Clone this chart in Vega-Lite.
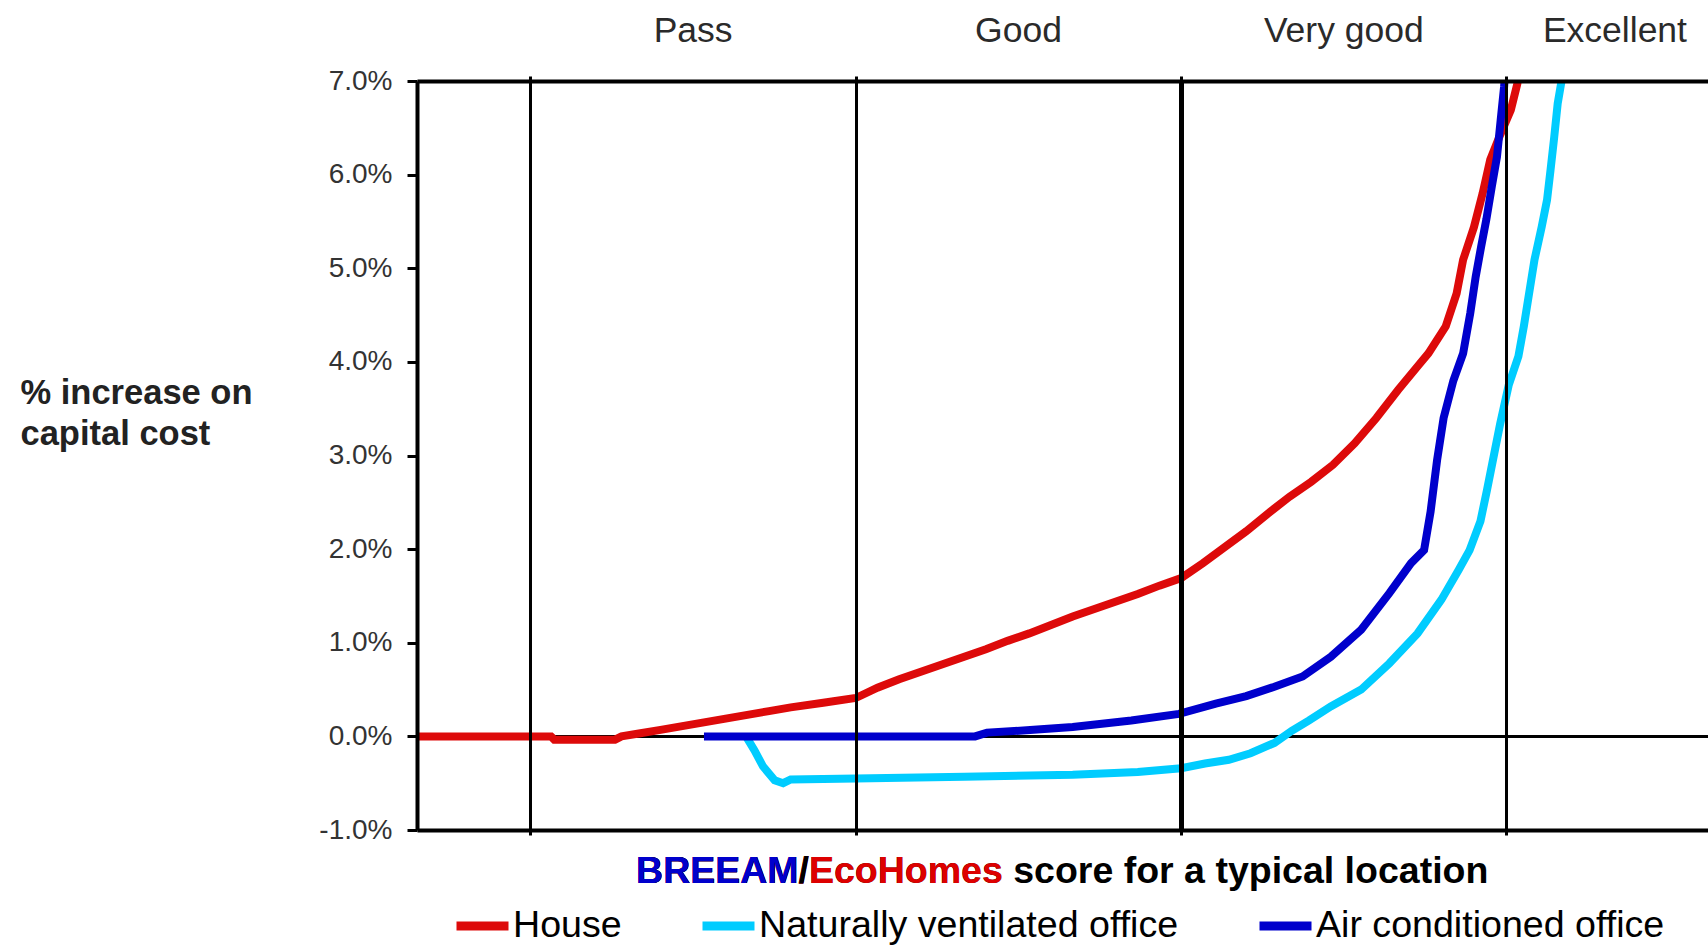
{
  "$schema": "https://vega.github.io/schema/vega-lite/v6.json",
  "width": 1291,
  "height": 749,
  "autosize": {"type": "none"},
  "padding": {"left": 417, "top": 81, "right": 0, "bottom": 116},
  "background": "#ffffff",
  "config": {"view": {"stroke": null}, "font": "Liberation Sans"},
  "resolve": {"axis": {"x": "independent"}},
  "layer": [
    {
      "data": {"values": [{}]},
      "mark": {"type": "rule", "color": "#000000", "strokeWidth": 3},
      "encoding": {"y": {"datum": 0, "type": "quantitative"}}
    },
    {
      "data": {"values": [
        {"series": "House", "score": 19.77, "pct": 0},
        {"series": "House", "score": 25.95, "pct": 0},
        {"series": "House", "score": 26.1, "pct": -0.035},
        {"series": "House", "score": 28.9, "pct": -0.035},
        {"series": "House", "score": 29.2, "pct": 0},
        {"series": "House", "score": 30, "pct": 0.03},
        {"series": "House", "score": 31, "pct": 0.07},
        {"series": "House", "score": 32, "pct": 0.11},
        {"series": "House", "score": 33, "pct": 0.15},
        {"series": "House", "score": 34, "pct": 0.19},
        {"series": "House", "score": 35, "pct": 0.23},
        {"series": "House", "score": 36, "pct": 0.27},
        {"series": "House", "score": 37, "pct": 0.31},
        {"series": "House", "score": 38.5, "pct": 0.36},
        {"series": "House", "score": 40, "pct": 0.41},
        {"series": "House", "score": 41, "pct": 0.52},
        {"series": "House", "score": 42, "pct": 0.61},
        {"series": "House", "score": 43, "pct": 0.69},
        {"series": "House", "score": 44, "pct": 0.77},
        {"series": "House", "score": 45, "pct": 0.85},
        {"series": "House", "score": 46, "pct": 0.93},
        {"series": "House", "score": 47, "pct": 1.02},
        {"series": "House", "score": 48, "pct": 1.1},
        {"series": "House", "score": 49, "pct": 1.19},
        {"series": "House", "score": 50, "pct": 1.28},
        {"series": "House", "score": 51, "pct": 1.36},
        {"series": "House", "score": 52, "pct": 1.44},
        {"series": "House", "score": 53, "pct": 1.52},
        {"series": "House", "score": 54, "pct": 1.61},
        {"series": "House", "score": 55, "pct": 1.69},
        {"series": "House", "score": 56, "pct": 1.85},
        {"series": "House", "score": 57, "pct": 2.02},
        {"series": "House", "score": 58, "pct": 2.19},
        {"series": "House", "score": 59, "pct": 2.38},
        {"series": "House", "score": 60, "pct": 2.56},
        {"series": "House", "score": 61, "pct": 2.72},
        {"series": "House", "score": 62, "pct": 2.9},
        {"series": "House", "score": 63, "pct": 3.13},
        {"series": "House", "score": 64, "pct": 3.4},
        {"series": "House", "score": 65, "pct": 3.7},
        {"series": "House", "score": 66, "pct": 3.98},
        {"series": "House", "score": 66.4, "pct": 4.09},
        {"series": "House", "score": 67.2, "pct": 4.38},
        {"series": "House", "score": 67.7, "pct": 4.73},
        {"series": "House", "score": 68, "pct": 5.09},
        {"series": "House", "score": 68.5, "pct": 5.44},
        {"series": "House", "score": 68.9, "pct": 5.8},
        {"series": "House", "score": 69.25, "pct": 6.16},
        {"series": "House", "score": 69.7, "pct": 6.42},
        {"series": "House", "score": 70.2, "pct": 6.69},
        {"series": "House", "score": 70.5, "pct": 6.97},
        {"series": "House", "score": 70.6, "pct": 7.15},
        {"series": "Naturally ventilated office", "score": 34.94, "pct": 0},
        {"series": "Naturally ventilated office", "score": 35.33, "pct": -0.15},
        {"series": "Naturally ventilated office", "score": 35.72, "pct": -0.32},
        {"series": "Naturally ventilated office", "score": 36.26, "pct": -0.47},
        {"series": "Naturally ventilated office", "score": 36.65, "pct": -0.5},
        {"series": "Naturally ventilated office", "score": 37, "pct": -0.46},
        {"series": "Naturally ventilated office", "score": 40, "pct": -0.45},
        {"series": "Naturally ventilated office", "score": 45, "pct": -0.43},
        {"series": "Naturally ventilated office", "score": 50, "pct": -0.41},
        {"series": "Naturally ventilated office", "score": 53, "pct": -0.38},
        {"series": "Naturally ventilated office", "score": 55, "pct": -0.34},
        {"series": "Naturally ventilated office", "score": 56.1, "pct": -0.29},
        {"series": "Naturally ventilated office", "score": 57.2, "pct": -0.25},
        {"series": "Naturally ventilated office", "score": 58.2, "pct": -0.18},
        {"series": "Naturally ventilated office", "score": 59.3, "pct": -0.07},
        {"series": "Naturally ventilated office", "score": 60.1, "pct": 0.06},
        {"series": "Naturally ventilated office", "score": 60.9, "pct": 0.17},
        {"series": "Naturally ventilated office", "score": 61.9, "pct": 0.32},
        {"series": "Naturally ventilated office", "score": 63.3, "pct": 0.5},
        {"series": "Naturally ventilated office", "score": 64.6, "pct": 0.78},
        {"series": "Naturally ventilated office", "score": 65.9, "pct": 1.1},
        {"series": "Naturally ventilated office", "score": 67, "pct": 1.46},
        {"series": "Naturally ventilated office", "score": 67.8, "pct": 1.78},
        {"series": "Naturally ventilated office", "score": 68.3, "pct": 1.99},
        {"series": "Naturally ventilated office", "score": 68.8, "pct": 2.3},
        {"series": "Naturally ventilated office", "score": 69.1, "pct": 2.63},
        {"series": "Naturally ventilated office", "score": 69.7, "pct": 3.33},
        {"series": "Naturally ventilated office", "score": 70.1, "pct": 3.75},
        {"series": "Naturally ventilated office", "score": 70.55, "pct": 4.06},
        {"series": "Naturally ventilated office", "score": 70.8, "pct": 4.38},
        {"series": "Naturally ventilated office", "score": 71.04, "pct": 4.73},
        {"series": "Naturally ventilated office", "score": 71.29, "pct": 5.09},
        {"series": "Naturally ventilated office", "score": 71.62, "pct": 5.44},
        {"series": "Naturally ventilated office", "score": 71.87, "pct": 5.73},
        {"series": "Naturally ventilated office", "score": 72.03, "pct": 6.05},
        {"series": "Naturally ventilated office", "score": 72.2, "pct": 6.4},
        {"series": "Naturally ventilated office", "score": 72.36, "pct": 6.76},
        {"series": "Naturally ventilated office", "score": 72.53, "pct": 6.99},
        {"series": "Naturally ventilated office", "score": 72.6, "pct": 7.15},
        {"series": "Air conditioned office", "score": 33.0, "pct": 0},
        {"series": "Air conditioned office", "score": 45.5, "pct": 0},
        {"series": "Air conditioned office", "score": 46.05, "pct": 0.04},
        {"series": "Air conditioned office", "score": 48.2, "pct": 0.07},
        {"series": "Air conditioned office", "score": 50, "pct": 0.1},
        {"series": "Air conditioned office", "score": 52.7, "pct": 0.17},
        {"series": "Air conditioned office", "score": 54.9, "pct": 0.24},
        {"series": "Air conditioned office", "score": 56.6, "pct": 0.35},
        {"series": "Air conditioned office", "score": 58, "pct": 0.43},
        {"series": "Air conditioned office", "score": 59.3, "pct": 0.53},
        {"series": "Air conditioned office", "score": 60.6, "pct": 0.64},
        {"series": "Air conditioned office", "score": 61.9, "pct": 0.85},
        {"series": "Air conditioned office", "score": 63.3, "pct": 1.14},
        {"series": "Air conditioned office", "score": 64.6, "pct": 1.53},
        {"series": "Air conditioned office", "score": 65.6, "pct": 1.85},
        {"series": "Air conditioned office", "score": 66.2, "pct": 1.99},
        {"series": "Air conditioned office", "score": 66.5, "pct": 2.4},
        {"series": "Air conditioned office", "score": 66.8, "pct": 2.95},
        {"series": "Air conditioned office", "score": 67.1, "pct": 3.4},
        {"series": "Air conditioned office", "score": 67.55, "pct": 3.8},
        {"series": "Air conditioned office", "score": 68.0, "pct": 4.09},
        {"series": "Air conditioned office", "score": 68.33, "pct": 4.52},
        {"series": "Air conditioned office", "score": 68.58, "pct": 4.91},
        {"series": "Air conditioned office", "score": 68.83, "pct": 5.23},
        {"series": "Air conditioned office", "score": 69.07, "pct": 5.52},
        {"series": "Air conditioned office", "score": 69.32, "pct": 5.87},
        {"series": "Air conditioned office", "score": 69.56, "pct": 6.19},
        {"series": "Air conditioned office", "score": 69.73, "pct": 6.58},
        {"series": "Air conditioned office", "score": 69.89, "pct": 6.94},
        {"series": "Air conditioned office", "score": 69.95, "pct": 7.15}
      ]},
      "mark": {"type": "line", "strokeWidth": 8, "clip": true},
      "encoding": {
        "x": {
          "field": "score", "type": "quantitative",
          "scale": {"domain": [19.77, 79.29], "nice": false, "zero": false},
          "axis": {
            "orient": "bottom", "values": [25, 40, 55, 70], "labels": false,
            "ticks": true, "tickSize": 5, "tickWidth": 3, "tickColor": "#000000",
            "domain": true, "domainColor": "#000000", "domainWidth": 4,
            "grid": true, "gridColor": "#000000", "gridOpacity": 1,
            "gridWidth": {"condition": {"test": "datum.value == 55", "value": 5}, "value": 3},
            "title": null, "zindex": 1
          }
        },
        "y": {
          "field": "pct", "type": "quantitative",
          "scale": {"domain": [-1, 7], "nice": false, "zero": false},
          "axis": {
            "values": [-1, 0, 1, 2, 3, 4, 5, 6, 7],
            "labelExpr": "(datum.value < 0 ? '-' : '') + format(abs(datum.value), '.1f') + '%'",
            "labelFontSize": 28, "labelColor": "#333333", "labelPadding": 15,
            "tickSize": 10, "tickWidth": 3, "tickColor": "#000000",
            "domainColor": "#000000", "domainWidth": 4, "grid": false,
            "title": ["% increase on", "capital cost"],
            "titleAngle": 0, "titleAlign": "left", "titleBaseline": "alphabetic",
            "titleX": -397, "titleY": 322, "titleFontSize": 34.5, "titleFontWeight": "bold",
            "titleColor": "#222222", "titleLineHeight": 41, "zindex": 1
          }
        },
        "color": {
          "field": "series", "type": "nominal",
          "scale": {
            "domain": ["House", "Naturally ventilated office", "Air conditioned office"],
            "range": ["#DD0A0A", "#00CCFF", "#0000CC"]
          },
          "legend": {
            "orient": "none", "legendX": 35, "legendY": 814, "direction": "horizontal",
            "title": null, "symbolType": "stroke", "symbolStrokeWidth": 9, "symbolSize": 2704,
            "labelFontSize": 37.6, "labelColor": "#000000", "labelOffset": 0, "labelLimit": 1000,
            "columnPadding": 62, "padding": 0
          }
        }
      }
    },
    {
      "data": {"values": [
        {"rating": "Pass", "score": 32.5},
        {"rating": "Good", "score": 47.5},
        {"rating": "Very good", "score": 62.5},
        {"rating": "Excellent", "score": 75}
      ]},
      "mark": {"type": "text", "fontSize": 35.5, "color": "#2a2a2a", "baseline": "alphabetic", "align": "center", "dy": -39},
      "encoding": {
        "x": {
          "field": "score", "type": "quantitative",
          "axis": {
            "orient": "top", "values": [25, 40, 55, 70], "labels": false,
            "ticks": true, "tickSize": 5, "tickWidth": 3, "tickColor": "#000000",
            "domain": true, "domainColor": "#000000", "domainWidth": 4,
            "grid": false, "title": null, "zindex": 1
          }
        },
        "y": {"datum": 7, "type": "quantitative"},
        "text": {"field": "rating"}
      }
    },
    {
      "data": {"values": [{}]},
      "mark": {"type": "text", "align": "left", "baseline": "alphabetic", "fontSize": 37.5, "fontWeight": "bold", "color": "#000000"},
      "encoding": {
        "x": {"datum": 29.87, "type": "quantitative", "axis": null},
        "y": {"datum": -1.569, "type": "quantitative"},
        "text": {"value": "BREEAM/EcoHomes score for a typical location"}
      }
    },
    {
      "data": {"values": [{}]},
      "mark": {"type": "text", "align": "left", "baseline": "alphabetic", "fontSize": 37.5, "fontWeight": "bold", "color": "#DD0000"},
      "encoding": {
        "x": {"datum": 29.87, "type": "quantitative", "axis": null},
        "y": {"datum": -1.569, "type": "quantitative"},
        "text": {"value": "BREEAM/EcoHomes"}
      }
    },
    {
      "data": {"values": [{}]},
      "mark": {"type": "text", "align": "left", "baseline": "alphabetic", "fontSize": 37.5, "fontWeight": "bold", "color": "#000000"},
      "encoding": {
        "x": {"datum": 29.87, "type": "quantitative", "axis": null},
        "y": {"datum": -1.569, "type": "quantitative"},
        "text": {"value": "BREEAM/"}
      }
    },
    {
      "data": {"values": [{}]},
      "mark": {"type": "text", "align": "left", "baseline": "alphabetic", "fontSize": 37.5, "fontWeight": "bold", "color": "#0000CC"},
      "encoding": {
        "x": {"datum": 29.87, "type": "quantitative", "axis": null},
        "y": {"datum": -1.569, "type": "quantitative"},
        "text": {"value": "BREEAM"}
      }
    }
  ]
}
